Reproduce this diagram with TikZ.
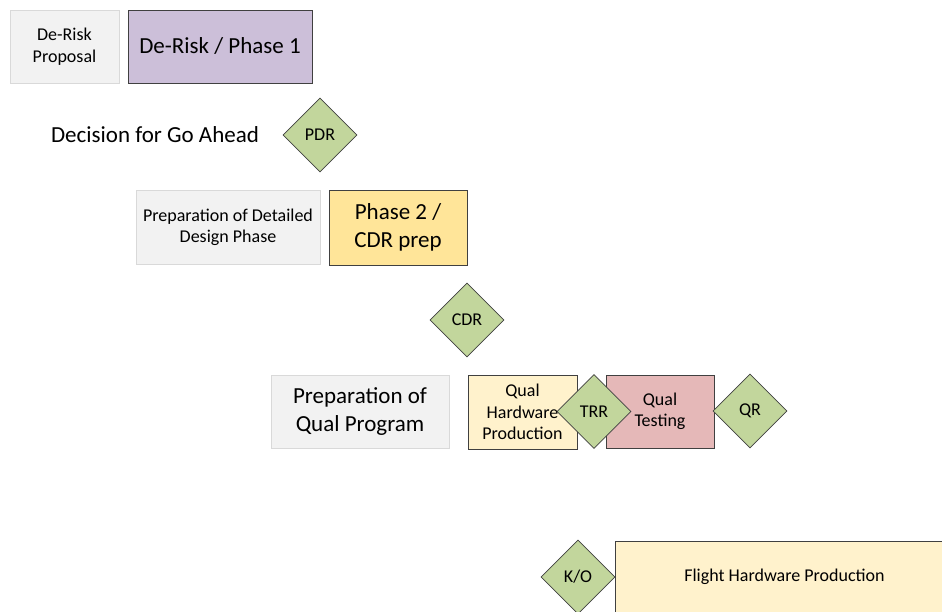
\documentclass[tikz,border=0pt]{standalone}
\usepackage{fontspec}
\setmainfont{Carlito}
\usepackage{tikz}
\usetikzlibrary{shapes,positioning}
\definecolor{grayPh}{rgb}{0.95,0.95,0.95}
\definecolor{lineGrayPh}{rgb}{0.85,0.85,0.85}
\definecolor{purplePh}{rgb}{0.8,0.75,0.85}
\definecolor{goldPh}{rgb}{1,0.9,0.6}
\definecolor{creamPh}{rgb}{1,0.95,0.8}
\definecolor{rosePh}{rgb}{0.9,0.72,0.72}
\definecolor{olivePh}{rgb}{0.76,0.84,0.61}
\definecolor{darkPh}{rgb}{0.25,0.25,0.25}
\newcommand{\smalltxt}{\fontsize{18}{21.5}\selectfont}
\newcommand{\bigtxt}{\fontsize{23}{28.5}\selectfont}
\tikzset{
  phase/.style={rectangle, draw=darkPh, line width=0.8pt, inner sep=0pt, align=center},
  prep/.style={phase, draw=lineGrayPh, fill=grayPh},
  gate/.style={diamond, draw=darkPh, line width=0.8pt, fill=olivePh, inner sep=0pt,
    minimum width=74pt, minimum height=74pt, font=\smalltxt}
}

\begin{document}
\begin{tikzpicture}[x=1pt,y=-1pt]
			\useasboundingbox (0,0) rectangle (942,611);
			\clip (0,0) rectangle (942,611);

			% phase boxes
		  	\node[prep, minimum width=109pt, minimum height=73pt, font=\smalltxt] (prop) at (64.5,46.5) {De-Risk\\Proposal};
		  	\node[phase, fill=purplePh, minimum width=184pt, minimum height=73pt, font=\bigtxt] (ph1) at (220,46.5) {De-Risk / Phase 1};
		  	\node[font=\bigtxt] (goahead) at (155,135) {Decision for Go Ahead};
		  	\node[prep, minimum width=184pt, minimum height=74pt, font=\smalltxt] (ddp) at (228,227.5) {Preparation of Detailed\\Design Phase};
		  	\node[phase, fill=goldPh, minimum width=138pt, minimum height=75pt, font=\bigtxt] (ph2) at (398,227.5) {Phase 2 /\\CDR prep};
		  	\node[prep, minimum width=178pt, minimum height=73pt, font=\bigtxt] (qprep) at (360,411.5) {Preparation of\\Qual Program};
		  	\node[phase, fill=creamPh, minimum width=109pt, minimum height=74pt, font=\smalltxt] (qhw) at (522.5,412) {Qual\\Hardware\\Production};
		  	\node[phase, fill=rosePh, minimum width=108pt, minimum height=73pt, font=\smalltxt] (qtest) at (660,411.5) {Qual\\Testing};
		  	\node[phase, fill=creamPh, minimum width=339pt, minimum height=72pt, font=\smalltxt] (fhw) at (784.5,577) {Flight Hardware Production};

		  	% reviews
		  	\node[gate] (pdr) at (320,135) {PDR};
		  	\node[gate] (cdr) at (467,320) {CDR};
		  	\node[gate] (trr) at (594,411.5) {TRR};
		  	\node[gate] (qr) at (750,411) {QR};
		  	\node[gate] (ko) at (578,577) {K/O};
		  \end{tikzpicture}
\end{document}
